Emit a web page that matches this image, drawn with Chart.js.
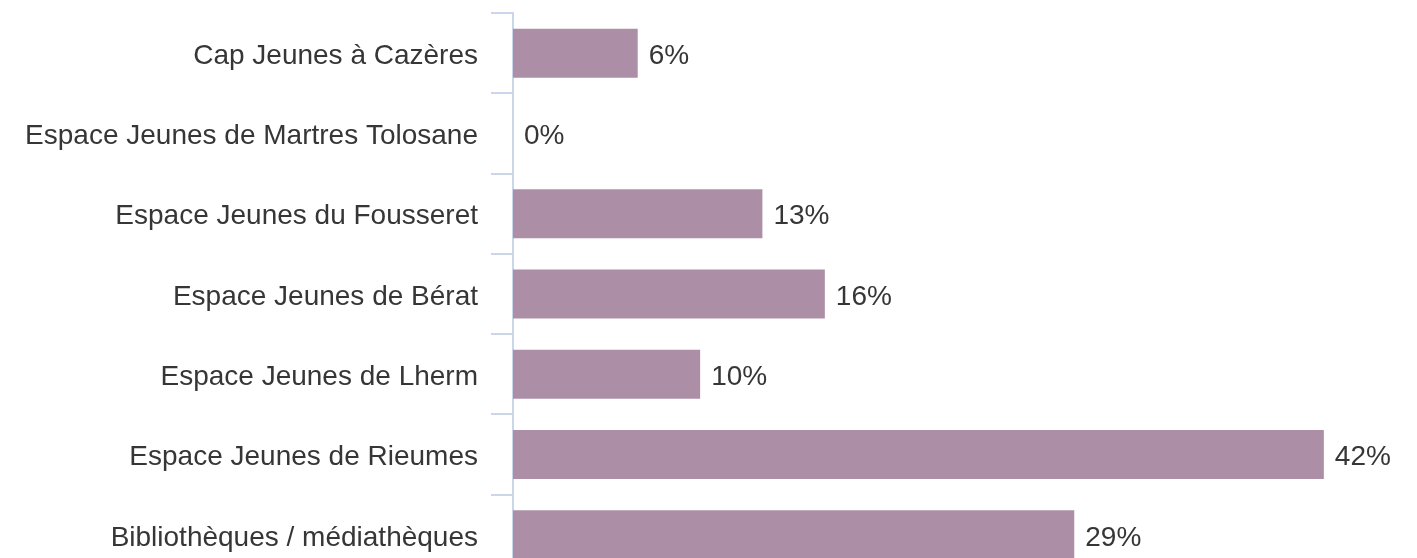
<!DOCTYPE html>
<html>
<head>
<meta charset="utf-8">
<script src="https://cdn.jsdelivr.net/npm/chart.js@4/dist/chart.umd.min.js"></script>
<style>
  html, body { margin: 0; padding: 0; background: #ffffff; overflow: hidden; }
  #wrap { width: 1417px; height: 558px; overflow: hidden; }
  canvas { display: block; }
</style>
</head>
<body>
<div id="wrap"><canvas id="c" width="1417" height="575"></canvas></div>
<script>
const categories = [
  "Cap Jeunes à Cazères",
  "Espace Jeunes de Martres Tolosane",
  "Espace Jeunes du Fousseret",
  "Espace Jeunes de Bérat",
  "Espace Jeunes de Lherm",
  "Espace Jeunes de Rieumes",
  "Bibliothèques / médiathèques"
];
const percentValues = [6.45, 0, 12.9, 16.13, 9.68, 41.94, 29.03];
const valueLabels = ["6%", "0%", "13%", "16%", "10%", "42%", "29%"];

const FONT = "'Liberation Sans', Arial, sans-serif";
const TEXT = "#363636";
const AXIS = "#ccd6eb";

const labelPlugin = {
  id: 'valueLabels',
  beforeDraw(chart) {
    const items = chart.scales.y.getLabelItems();
    items.forEach(it => {
      if (!it._shifted) {
        it.options.translation[1] += 3;
        it._shifted = true;
      }
    });
  },
  afterDatasetsDraw(chart) {
    const ctx = chart.ctx;
    const meta = chart.getDatasetMeta(0);
    ctx.save();
    ctx.font = "28px " + FONT;
    ctx.fillStyle = TEXT;
    ctx.textAlign = 'left';
    ctx.textBaseline = 'middle';
    meta.data.forEach((bar, i) => {
      ctx.fillText(valueLabels[i], bar.x + 11, bar.y + 3);
    });
    ctx.restore();
  }
};

new Chart(document.getElementById('c'), {
  type: 'bar',
  data: {
    labels: categories,
    datasets: [{
      data: percentValues,
      backgroundColor: '#ac8fa6',
      borderWidth: 0,
      categoryPercentage: 1,
      barPercentage: 0.61
    }]
  },
  options: {
    indexAxis: 'y',
    responsive: false,
    animation: false,
    layout: { padding: { top: 13, right: 34, bottom: 0, left: 0 } },
    plugins: { legend: { display: false }, tooltip: { enabled: false } },
    scales: {
      x: { display: false, min: 0, max: 45 },
      y: {
        afterFit(scale) { scale.width = 513; scale.paddingTop = 0; scale.paddingBottom = 0; },
        border: { display: true, color: AXIS, width: 2 },
        grid: { display: true, drawOnChartArea: false, drawTicks: true, tickLength: 22, color: AXIS, lineWidth: 2, offset: true },
        ticks: { color: TEXT, font: { family: FONT, size: 28 }, padding: 13 }
      }
    }
  },
  plugins: [labelPlugin]
});
</script>
</body>
</html>
